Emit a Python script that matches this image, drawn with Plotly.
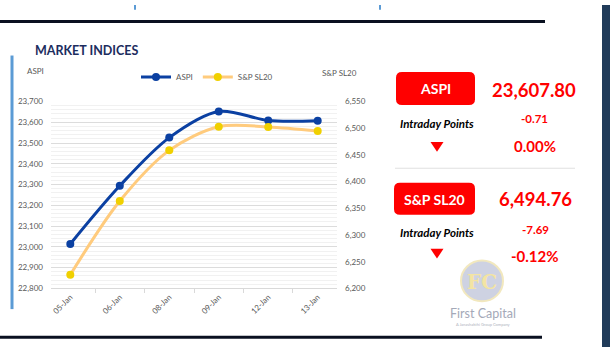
import plotly.graph_objects as go

W, H = 615, 352

# ---- data ----
dates = ["05-Jan", "06-Jan", "08-Jan", "09-Jan", "12-Jan", "13-Jan"]
aspi = [23014, 23294, 23526, 23652, 23608.5, 23607.8]
spsl20 = [6225.5, 6363.6, 6458.5, 6502.8, 6502.45, 6494.76]

aspi_ticks = [22800, 22900, 23000, 23100, 23200, 23300, 23400, 23500, 23600, 23700]
sp_ticks = [6200, 6250, 6300, 6350, 6400, 6450, 6500, 6550]

aspi_last = "23,607.80"
aspi_pts = "-0.71"
aspi_pct = "0.00%"
sp_last = "6,494.76"
sp_pts = "-7.69"
sp_pct = "-0.12%"

FONT = "Lato"
GRAY = "#595959"
RED = "#ff0000"
ASPI_COL = "#0b40a2"
SP_LINE = "#ffcb7d"
SP_MARK = "#f0d000"


def X(x):
    return x / W


def Y(y):
    return 1 - y / H


fig = go.Figure()
fig.add_trace(go.Scatter(
    x=dates, y=aspi, name="ASPI", mode="lines+markers",
    line=dict(color=ASPI_COL, width=3, shape="spline", smoothing=0.9),
    marker=dict(color=ASPI_COL, size=8), yaxis="y"))
fig.add_trace(go.Scatter(
    x=dates, y=spsl20, name="S&P SL20", mode="lines+markers",
    line=dict(color=SP_LINE, width=3, shape="spline", smoothing=0.9),
    marker=dict(color=SP_MARK, size=8), yaxis="y2"))

shapes = []


def line(x0, y0, x1, y1, color, width):
    shapes.append(dict(type="line", xref="paper", yref="paper",
                       x0=X(x0), y0=Y(y0), x1=X(x1), y1=Y(y1),
                       line=dict(color=color, width=width), layer="above"))


def rrect(x0, y0, x1, y1, r, color):
    rx, ry = r / W, r / H
    a0, a1 = X(x0), X(x1)
    b0, b1 = Y(y0), Y(y1)
    p = (f"M {a0+rx},{b0} L {a1-rx},{b0} Q {a1},{b0} {a1},{b0-ry} "
         f"L {a1},{b1+ry} Q {a1},{b1} {a1-rx},{b1} L {a0+rx},{b1} "
         f"Q {a0},{b1} {a0},{b1+ry} L {a0},{b0-ry} Q {a0},{b0} {a0+rx},{b0} Z")
    shapes.append(dict(type="path", xref="paper", yref="paper", path=p,
                       fillcolor=color, line=dict(width=0), layer="above"))


def tri(cx, cy, w, h, color):
    p = (f"M {X(cx-w/2)},{Y(cy-h/2)} L {X(cx+w/2)},{Y(cy-h/2)} "
         f"L {X(cx)},{Y(cy+h/2)} Z")
    shapes.append(dict(type="path", xref="paper", yref="paper", path=p,
                       fillcolor=color, line=dict(width=0), layer="above"))


# frame decorations
line(0, 17, 545, 17, "#0a1020", 3)
line(135, 0, 135, 5, "#5b9bd5", 2)
line(380, 0, 380, 5, "#5b9bd5", 2)
line(12, 52, 12, 313, "#5b9bd5", 3)
line(0, 342, 542, 342, "#0a1020", 3)
shapes.append(dict(type="rect", xref="paper", yref="paper",
                   x0=X(602), x1=X(610), y0=Y(0), y1=Y(352),
                   fillcolor="#213c5a", line=dict(width=0)))
line(395, 168, 575, 168, "#e0e0e0", 1)

# red boxes
rrect(396, 69, 475, 103, 6, RED)
rrect(394, 183, 475, 216, 6, RED)
tri(437, 146, 13, 10, RED)
tri(437, 256, 13, 10, RED)

# logo circle
shapes.append(dict(type="circle", xref="paper", yref="paper",
                   x0=X(461), x1=X(503), y0=Y(263), y1=Y(305),
                   fillcolor="#c9cedf", line=dict(color="#f1e6b8", width=2),
                   opacity=0.9))

ann = []


def text(x, y, s, size, color, bold=False, italic=False, xanchor="center", family=FONT):
    if bold:
        s = f"<b>{s}</b>"
    if italic:
        s = f"<i>{s}</i>"
    ann.append(dict(x=X(x), y=Y(y), xref="paper", yref="paper", text=s,
                    showarrow=False, xanchor=xanchor, yanchor="middle",
                    font=dict(family=family, size=size, color=color)))


text(33, 47, "MARKET INDICES", 12.5, "#1c2d5e", bold=True, xanchor="left")
text(35, 68, "ASPI", 8, GRAY)
text(339, 70, "S&P SL20", 8, GRAY)

text(435.5, 86, "ASPI", 14, "white", bold=True)
text(534, 87, aspi_last, 18.5, RED, bold=True)
text(437, 122, "Intraday Points", 11.5, "black", bold=True, italic=True)
text(534, 117, aspi_pts, 11.5, RED, bold=True)
text(535, 145, aspi_pct, 15, RED, bold=True)

text(434.5, 200, "S&P SL20", 14, "white", bold=True)
text(535, 200, sp_last, 18.5, RED, bold=True)
text(437, 234, "Intraday Points", 11.5, "black", bold=True, italic=True)
text(535, 231, sp_pts, 11.5, RED, bold=True)
text(535, 258, sp_pct, 15, RED, bold=True)

# logo text
text(482, 285, "FC", 20, "#f3e4a3", bold=True, family="DejaVu Serif")
text(483, 318, "First Capital", 12.5, "#a4a9b8")
text(483, 329, "A Janashakthi Group Company", 4, "#b0b4c0")

fig.update_layout(
    width=W, height=H,
    margin=dict(l=0, r=0, t=0, b=0),
    paper_bgcolor="white", plot_bgcolor="white",
    font=dict(family=FONT, size=9, color=GRAY),
    shapes=shapes, annotations=ann,
    showlegend=True,
    legend=dict(orientation="h", x=X(136), y=Y(74), xanchor="left", yanchor="middle",
                font=dict(size=8, color=GRAY), itemwidth=30, bgcolor="rgba(0,0,0,0)",
                tracegroupgap=0),
    xaxis=dict(domain=[X(51), X(337)], type="category",
               tickangle=-45, tickfont=dict(size=8, color=GRAY),
               showline=True, linecolor="#d9d9d9", linewidth=1,
               ticks="outside", tickson="boundaries", ticklen=4, tickcolor="#d9d9d9",
               showgrid=False, zeroline=False),
    yaxis=dict(domain=[Y(291.7), Y(99.3)], range=[22800, 23700],
               tickvals=aspi_ticks, tickformat=",", tickfont=dict(size=8, color=GRAY),
               showgrid=True, gridcolor="#dcdcdc", gridwidth=1,
               minor=dict(dtick=20, showgrid=True, gridcolor="#f1f1f1", gridwidth=1),
               zeroline=False, showline=False, ticks="", ticklabelstandoff=7),
    yaxis2=dict(overlaying="y", side="right", range=[6200, 6550],
                tickvals=sp_ticks, tickformat=",", tickfont=dict(size=8, color=GRAY),
                showgrid=False, zeroline=False, showline=False, ticks="",
                ticklabelstandoff=7),
)

fig.write_html("out.html")
